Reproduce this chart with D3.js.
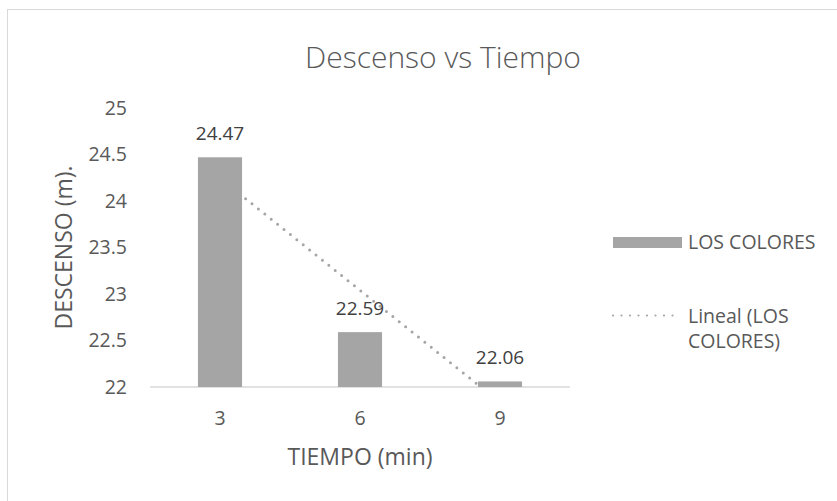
<!DOCTYPE html>
<html>
<head>
<meta charset="utf-8">
<script src="https://cdn.jsdelivr.net/npm/d3@7"></script>
<style>
  html, body { margin: 0; padding: 0; background: #fff; }
  svg { display: block; font-family: "Open Sans", "Noto Sans", sans-serif; }
</style>
</head>
<body>
<svg id="chart" width="837" height="501"></svg>
<script>
// Chart data
const categories = ["3", "6", "9"];
const descenso = [24.47, 22.59, 22.06];
const yTicks = [22, 22.5, 23, 23.5, 24, 24.5, 25];
const seriesName = "LOS COLORES";
const trendName = ["Lineal (LOS", "COLORES)"];
const chartTitle = "Descenso vs Tiempo";
const xTitle = "TIEMPO (min)";
const yTitle = "DESCENSO (m).";

const plot = { left: 150, right: 570, top: 108, bottom: 387 };
const barColor = "#a5a5a5";
const textColor = "#595959";
const gridColor = "#d9d9d9";
const font = "'Open Sans', 'Noto Sans', sans-serif";

const svg = d3.select("#chart");

// Chart area outline
svg.append("rect")
  .attr("x", 7.5).attr("y", 9.5)
  .attr("width", 900).attr("height", 600)
  .attr("fill", "#fff").attr("stroke", gridColor).attr("stroke-width", 1);

const x = d3.scaleBand().domain(categories).range([plot.left, plot.right])
  .paddingInner(0.685).paddingOuter(0.3425);
const y = d3.scaleLinear().domain([22, 25]).range([plot.bottom, plot.top]);

// Title
svg.append("text")
  .attr("x", 443).attr("y", 68)
  .attr("text-anchor", "middle")
  .attr("fill", textColor)
  .attr("font-size", 30)
  .attr("font-weight", 300)
  .text(chartTitle);

// Y axis labels
const yAxis = d3.axisLeft(y).tickValues(yTicks).tickSize(0).tickPadding(0).tickFormat(d3.format("~g"));
const gy = svg.append("g").attr("transform", `translate(${plot.left - 23},0)`).call(yAxis);
gy.select(".domain").remove();
gy.selectAll("text").attr("fill", textColor).attr("font-size", 19.5).attr("font-family", font);

// X axis
const xAxis = d3.axisBottom(x).tickSize(0).tickPadding(0);
const gx = svg.append("g").attr("transform", `translate(0,${plot.bottom})`).call(xAxis);
gx.select(".domain").attr("stroke", gridColor).attr("stroke-width", 1.5)
  .attr("d", `M${plot.left},0H${plot.right}`);
gx.selectAll("text").attr("fill", textColor).attr("font-size", 19.5)
  .attr("font-family", font).attr("y", 38).attr("dy", 0);

// Axis titles
svg.append("text")
  .attr("x", (plot.left + plot.right) / 2).attr("y", 465)
  .attr("text-anchor", "middle").attr("fill", textColor).attr("font-size", 23)
  .text(xTitle);
svg.append("text")
  .attr("transform", `translate(72,${(plot.top + plot.bottom) / 2}) rotate(-90)`)
  .attr("text-anchor", "middle").attr("fill", textColor).attr("font-size", 23)
  .text(yTitle);

// Linear trendline fitted on category index (1..n)
const n = descenso.length;
const idx = d3.range(1, n + 1);
const mx = d3.mean(idx), my = d3.mean(descenso);
const slope = d3.sum(idx, (k, i) => (k - mx) * (descenso[i] - my)) / d3.sum(idx, k => (k - mx) * (k - mx));
const intercept = my - slope * mx;
const trend = categories.map((c, i) => ({ c, v: intercept + slope * (i + 1) }));

svg.append("clipPath").attr("id", "plotClip")
  .append("rect").attr("x", plot.left).attr("y", plot.top)
  .attr("width", plot.right - plot.left).attr("height", plot.bottom - plot.top);

const line = d3.line().x(d => x(d.c) + x.bandwidth() / 2).y(d => y(d.v));
svg.append("path")
  .datum([trend[0], trend[n - 1]])
  .attr("clip-path", "url(#plotClip)")
  .attr("d", line)
  .attr("fill", "none").attr("stroke", barColor).attr("stroke-width", 3)
  .attr("stroke-linecap", "round").attr("stroke-dasharray", "0,8.2");

// Bars
svg.append("g").selectAll("rect")
  .data(categories)
  .join("rect")
  .attr("x", d => x(d))
  .attr("y", (d, i) => y(descenso[i]))
  .attr("width", x.bandwidth())
  .attr("height", (d, i) => y(22) - y(descenso[i]))
  .attr("fill", barColor);

// Data labels
svg.append("g").selectAll("text")
  .data(categories)
  .join("text")
  .attr("x", d => x(d) + x.bandwidth() / 2)
  .attr("y", (d, i) => y(descenso[i]) - 17)
  .attr("text-anchor", "middle").attr("fill", "#404040").attr("font-size", 19)
  .text((d, i) => descenso[i].toFixed(2));

// Legend
const lg = svg.append("g");
lg.append("rect").attr("x", 613).attr("y", 237).attr("width", 69).attr("height", 11).attr("fill", barColor);
lg.append("text").attr("x", 688).attr("y", 249).attr("fill", textColor).attr("font-size", 19.5).text(seriesName);
lg.append("line").attr("x1", 613).attr("x2", 681).attr("y1", 315.5).attr("y2", 315.5)
  .attr("stroke", barColor).attr("stroke-width", 2.2).attr("stroke-linecap", "round").attr("stroke-dasharray", "0,8.5");
lg.append("text").attr("x", 688).attr("y", 323).attr("fill", textColor).attr("font-size", 19.5).text(trendName[0]);
lg.append("text").attr("x", 688).attr("y", 348).attr("fill", textColor).attr("font-size", 19.5).text(trendName[1]);
</script>
</body>
</html>
